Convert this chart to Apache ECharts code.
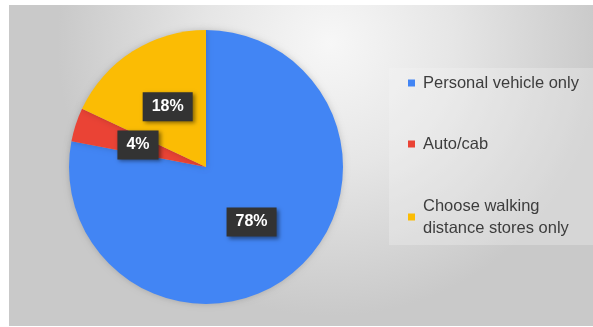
<!DOCTYPE html>
<html>
<head>
<meta charset="utf-8">
<script src="https://cdn.jsdelivr.net/npm/echarts@6/dist/echarts.min.js"></script>
<style>
  html, body { margin: 0; padding: 0; background: #ffffff; }
  #chart { width: 593px; height: 327px; }
</style>
</head>
<body>
<div id="chart"></div>
<script>
// Travel mode shares (percent)
const categories = ['Personal vehicle only', 'Auto/cab', 'Choose walking distance stores only'];
const shares = [78, 4, 18];
const sliceColors = ['#4285F4', '#EA4335', '#FBBC04'];
// Legend text with manual line breaks
const legendText = ['Personal vehicle only', 'Auto/cab', 'Choose walking\ndistance stores only'];

const chart = echarts.init(document.getElementById('chart'), null, { renderer: 'canvas' });

const legendFont = {
  fontFamily: 'Liberation Sans, Arial, sans-serif',
  fontSize: 16.5,
  color: '#3d3d3d',
  lineHeight: 22,
  padding: [0, 0, 0, 3]
};
const nameToText = {};
categories.forEach((c, i) => { nameToText[c] = legendText[i]; });

chart.setOption({
  animation: false,
  graphic: [
    {
      type: 'rect',
      z: -10,
      silent: true,
      shape: { x: 9, y: 5, width: 584, height: 321 },
      style: {
        fill: new echarts.graphic.RadialGradient(0.55, 0.12, 0.85, [
          { offset: 0, color: '#f7f7f7' },
          { offset: 0.45, color: '#e6e6e6' },
          { offset: 1, color: '#c9c9c9' }
        ])
      }
    },
    {
      type: 'rect',
      z: -9,
      silent: true,
      shape: { x: 389, y: 68, width: 204, height: 177 },
      style: { fill: 'rgba(246,246,246,0.3)' }
    }
  ],
  legend: [
    {
      data: categories.slice(0, 2),
      orient: 'vertical',
      left: 403,
      top: 67,
      itemGap: 39,
      itemWidth: 7,
      itemHeight: 7,
      icon: 'rect',
      selectedMode: false,
      textStyle: legendFont,
      formatter: name => nameToText[name]
    },
    {
      data: [{ name: categories[2], textStyle: Object.assign({}, legendFont, { padding: [22, 0, 0, 3] }) }],
      orient: 'vertical',
      left: 403,
      top: 179,
      itemWidth: 7,
      itemHeight: 7,
      icon: 'rect',
      selectedMode: false,
      textStyle: legendFont,
      formatter: name => nameToText[name]
    }
  ],
  series: [
    {
      type: 'pie',
      center: [206, 167],
      radius: 137,
      startAngle: 90,
      clockwise: true,
      avoidLabelOverlap: false,
      itemStyle: {
        borderWidth: 0,
        shadowBlur: 6,
        shadowColor: 'rgba(0,0,0,0.18)'
      },
      label: {
        show: true,
        position: 'inside',
        formatter: '{c}%',
        color: '#ffffff',
        fontFamily: 'Liberation Sans, Arial, sans-serif',
        fontWeight: 'bold',
        fontSize: 16,
        backgroundColor: '#333333',
        padding: [7, 9, 6, 9],
        shadowColor: 'rgba(0,0,0,0.45)',
        shadowBlur: 4,
        shadowOffsetX: 2,
        shadowOffsetY: 2
      },
      labelLine: { show: false },
      emphasis: { disabled: true },
      data: categories.map((name, i) => ({
        name: name,
        value: shares[i],
        itemStyle: { color: sliceColors[i] }
      }))
    }
  ]
});
</script>
</body>
</html>
